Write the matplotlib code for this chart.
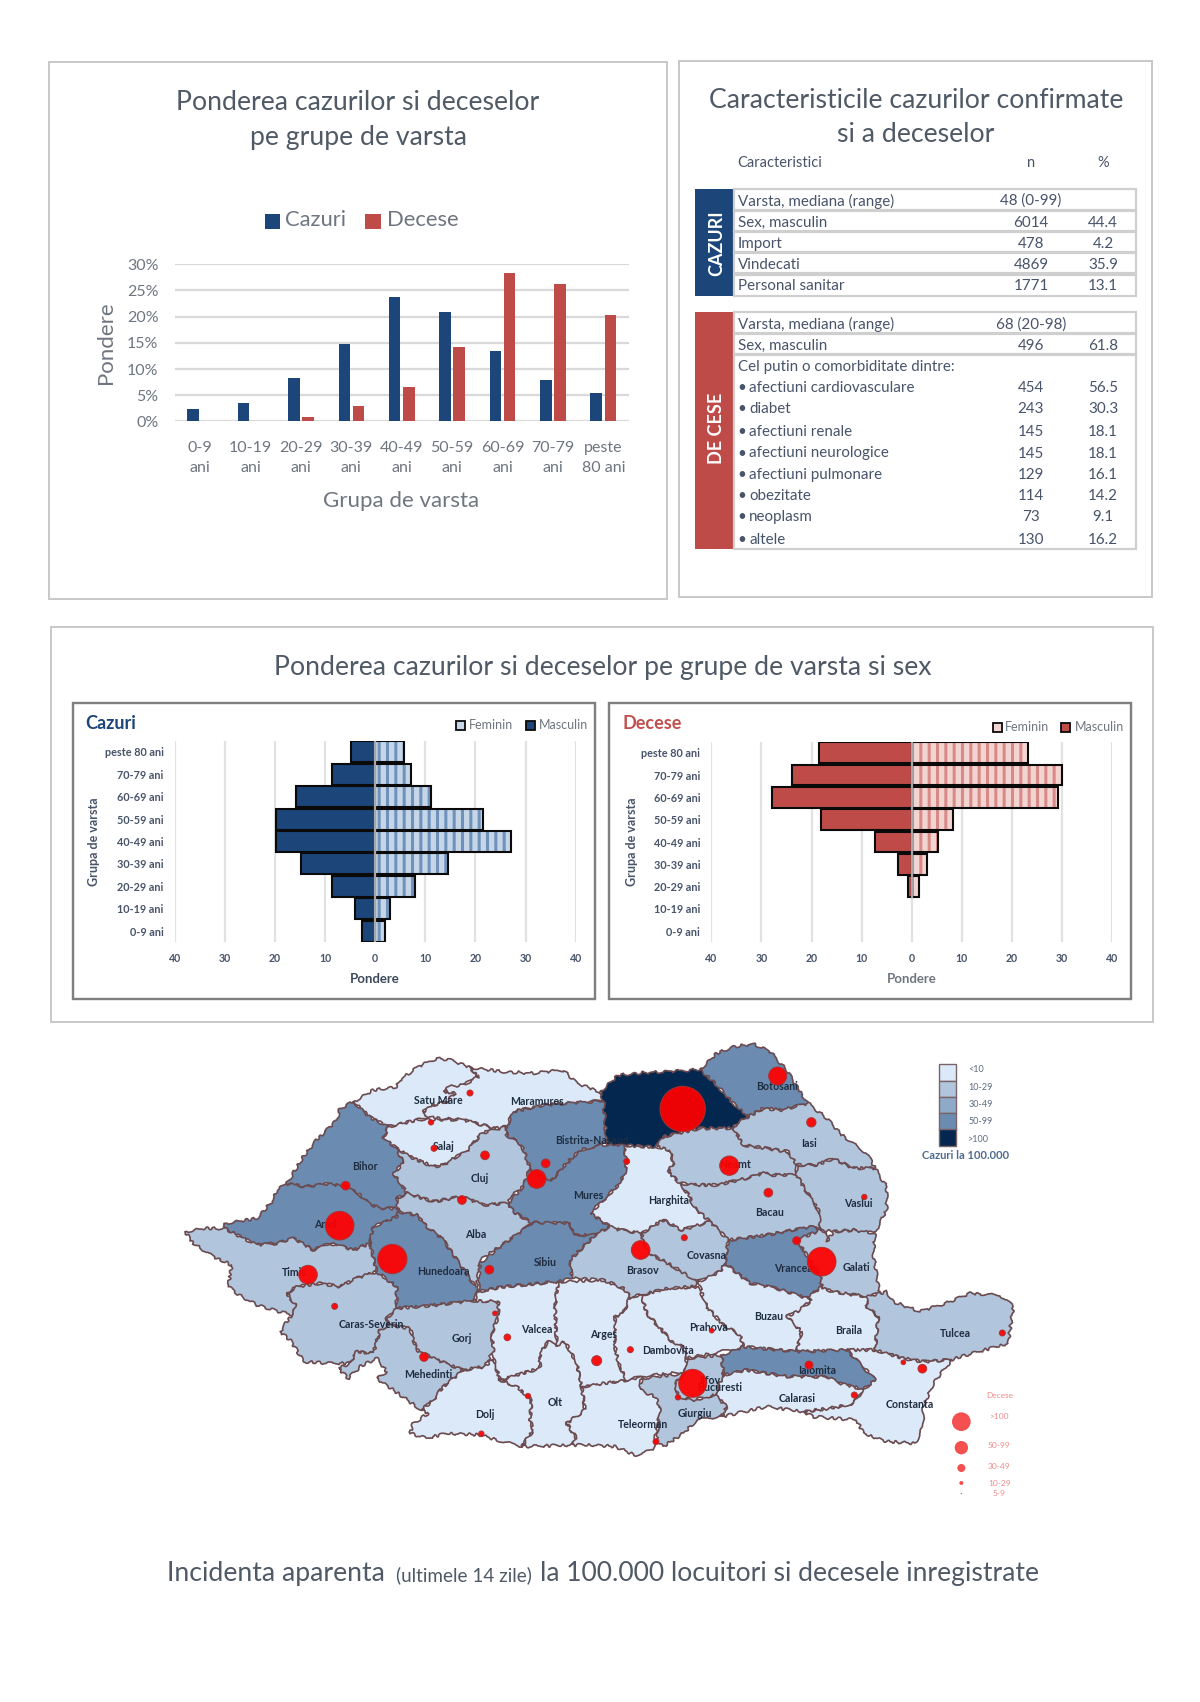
#!/usr/bin/env python
# Romania COVID report page: age/sex bars, characteristics table, county map
import matplotlib
matplotlib.use("Agg")
import matplotlib.pyplot as plt
from matplotlib.patches import Rectangle, Polygon, Circle

plt.rcParams['font.family'] = ['Lato', 'DejaVu Sans']
plt.rcParams['hatch.linewidth'] = 2.2

# --- data ---
age_groups = ["0-9\nani", "10-19\nani", "20-29\nani", "30-39\nani", "40-49\nani",
              "50-59\nani", "60-69\nani", "70-79\nani", "peste\n80 ani"]
cases_pct = [2.3, 3.5, 8.3, 14.8, 23.8, 20.8, 13.4, 7.9, 5.4]
deaths_pct = [0, 0, 0.9, 3.0, 6.6, 14.2, 28.3, 26.2, 20.3]

pyr_ages = ["0-9 ani", "10-19 ani", "20-29 ani", "30-39 ani", "40-49 ani",
            "50-59 ani", "60-69 ani", "70-79 ani", "peste 80 ani"]
cases_m = [2.7, 4.0, 8.7, 14.8, 19.7, 19.7, 15.9, 8.7, 4.9]
cases_f = [1.9, 2.9, 7.9, 14.6, 27.1, 21.6, 11.1, 7.1, 5.7]
deaths_m = [0, 0, 0.8, 2.7, 7.3, 18.1, 27.8, 24.0, 18.5]
deaths_f = [0, 0, 1.5, 3.0, 5.3, 8.2, 29.3, 30.0, 23.3]

table_cases = ["Varsta, mediana (range)", "Sex, masculin", "Import", "Vindecati", "Personal sanitar"]
table_cases_n = ["48 (0-99)", "6014", "478", "4869", "1771"]
table_cases_pct = ["", "44.4", "4.2", "35.9", "13.1"]
table_deaths = ["Varsta, mediana (range)", "Sex, masculin", "Cel putin o comorbiditate dintre:",
                "afectiuni cardiovasculare", "diabet", "afectiuni renale", "afectiuni neurologice",
                "afectiuni pulmonare", "obezitate", "neoplasm", "altele"]
table_deaths_n = ["68 (20-98)", "496", "", "454", "243", "145", "145", "129", "114", "73", "130"]
table_deaths_pct = ["", "61.8", "", "56.5", "30.3", "18.1", "18.1", "16.1", "14.2", "9.1", "16.2"]

# incidence classes for the map
class_labels = ["<10", "10-29", "30-49", "50-99", ">100"]
death_labels = [">100", "50-99", "30-49", "10-29", "5-9"]

west_outlines = {
    "Satu Mare": [(550,215),(610,180),(680,170),(690,150),(745,110),(800,85),(840,90),(900,112),(925,140),(880,165),(830,172),(825,185),(855,190),(830,215),(790,225),(760,245),(775,262),(750,268),(655,290),(600,262)],
    "Maramures": [(900,112),(1000,125),(1090,130),(1180,120),(1220,160),(1290,185),(1300,212),(1200,220),(1120,225),(1030,245),(1010,290),(975,295),(880,270),(775,262),(760,245),(790,225),(830,215),(855,190),(825,185),(830,172),(880,165),(925,140)],
    "Salaj": [(655,290),(750,268),(880,270),(975,295),(935,310),(890,365),(860,380),(820,405),(790,410),(730,385),(680,355),(640,325)],
    "Bihor": [(550,215),(600,262),(655,290),(640,325),(680,355),(700,400),(670,430),(712,490),(680,505),(685,535),(640,535),(600,525),(570,495),(525,468),(470,462),(410,470),(350,462),(400,380),(440,330),(500,270),(510,235)],
    "Cluj": [(680,355),(730,385),(790,410),(820,405),(860,380),(890,365),(935,310),(1010,290),(1010,315),(1055,345),(1080,415),(1060,470),(1020,500),(1015,520),(940,525),(900,510),(875,500),(790,515),(712,490),(670,430),(700,400)],
    "Alba": [(680,505),(712,490),(790,515),(875,500),(940,525),(1015,520),(1030,545),(1085,578),(1060,600),(990,650),(930,690),(920,775),(860,690),(820,630),(770,590),(740,555),(685,545)],
    "Arad": [(165,580),(260,565),(310,510),(320,480),(350,462),(410,470),(470,462),(525,468),(570,495),(600,525),(640,535),(685,535),(680,560),(610,590),(600,640),(550,660),(480,640),(430,660),(370,625),(320,640),(260,645),(210,620),(165,595)],
    "Timis": [(45,605),(100,595),(165,595),(210,620),(260,645),(320,640),(370,625),(430,660),(480,640),(550,660),(600,640),(620,725),(560,745),(510,770),(450,760),(380,770),(350,790),(380,830),(365,855),(310,840),(260,825),(200,790),(175,770),(185,705),(130,680),(70,640)],
    "Caras-Severin": [(350,790),(380,770),(450,760),(510,770),(560,745),(620,725),(680,770),(680,835),(650,865),(655,885),(630,900),(610,970),(560,965),(540,1000),(480,1000),(400,995),(380,960),(360,930),(330,905),(365,855),(380,830)],
    "Hunedoara": [(610,590),(680,560),(685,545),(740,555),(770,590),(820,630),(860,690),(920,775),(915,812),(800,825),(680,835),(680,770),(620,725),(600,640)],
    "Gorj": [(650,865),(680,835),(800,825),(915,812),(985,815),(985,860),(965,910),(970,960),(945,1010),(880,1020),(800,990),(740,960),(720,895),(655,885)],
    "Mehedinti": [(630,900),(655,885),(720,895),(740,960),(800,990),(880,1020),(820,1070),(790,1110),(755,1140),(690,1095),(620,1045),(650,1025),(620,985),(570,1010),(535,1045),(505,1015),(540,1000),(560,965),(610,970)],
    "Dolj": [(880,1020),(945,1010),(970,985),(990,1050),(1040,1070),(1085,1110),(1080,1170),(1090,1200),(1055,1250),(1000,1235),(930,1215),(830,1210),(770,1225),(720,1210),(730,1180),(775,1150),(755,1140),(790,1110),(820,1070)],
    "Valcea": [(925,785),(1000,770),(1165,755),(1155,830),(1160,945),(1135,935),(1110,970),(1110,1015),(1040,1035),(990,1050),(970,985),(970,960),(965,910),(985,860),(985,815),(915,812)],
    "Olt": [(990,1050),(1040,1035),(1110,1015),(1110,970),(1135,935),(1160,945),(1185,935),(1220,1000),(1235,1070),(1245,1140),(1190,1180),(1220,1225),(1205,1245),(1055,1250),(1090,1200),(1080,1170),(1085,1110),(1040,1070)],
    "Arges": [(1165,755),(1300,750),(1360,775),(1380,800),(1360,850),(1335,860),(1335,950),(1345,1000),(1370,1050),(1300,1065),(1235,1070),(1220,1000),(1185,935),(1160,945),(1155,830)],
    "Teleorman": [(1235,1070),(1370,1050),(1415,1040),(1410,1070),(1470,1090),(1470,1140),(1460,1200),(1450,1260),(1395,1275),(1335,1250),(1265,1245),(1205,1245),(1220,1225),(1190,1180),(1245,1140)],
    "Dambovita": [(1380,800),(1415,795),(1430,850),(1480,905),(1505,935),(1540,950),(1550,985),(1545,1025),(1415,1040),(1370,1050),(1345,1000),(1335,950),(1335,860),(1360,850)],
    "Prahova": [(1415,795),(1490,775),(1585,770),(1610,830),(1660,885),(1710,915),(1720,955),(1650,965),(1550,985),(1540,950),(1505,935),(1480,905),(1430,850)],
    "Harghita": [(1360,345),(1425,350),(1460,350),(1500,360),(1510,400),(1495,425),(1530,460),(1560,500),(1570,530),(1620,575),(1570,590),(1535,600),(1480,570),(1415,610),(1340,598),(1320,590),(1260,550),(1300,510),(1340,470),(1365,430),(1370,390)],
    "Mures": [(1145,450),(1180,410),(1230,360),(1290,345),(1360,345),(1370,390),(1365,430),(1340,470),(1300,510),(1260,550),(1320,590),(1275,615),(1210,615),(1200,580),(1085,578),(1030,545),(1015,520),(1060,470),(1080,415),(1120,445)],
    "Bistrita-Nasaud": [(1010,290),(1030,245),(1120,225),(1200,220),(1300,212),(1310,340),(1290,345),(1230,360),(1180,410),(1145,450),(1120,445),(1080,415),(1055,345),(1010,315)],
    "Suceava": [(1290,185),(1345,135),(1420,128),(1500,125),(1590,118),(1640,165),(1690,220),(1735,260),(1700,280),(1690,295),(1590,295),(1480,320),(1460,350),(1425,350),(1360,345),(1310,340),(1300,212)],
    "Brasov": [(1205,745),(1200,690),(1230,660),(1275,615),(1320,590),(1340,598),(1415,610),(1420,640),(1440,670),(1510,710),(1585,755),(1570,770),(1490,775),(1415,795),(1380,800),(1360,775),(1300,750)],
    "Sibiu": [(925,785),(930,700),(990,650),(1060,600),(1085,578),(1200,580),(1210,615),(1275,615),(1230,660),(1200,690),(1205,745),(1165,755),(1000,770)],
}
east_outlines = {
    "Botosani": [(300,118),(350,70),(400,50),(460,42),(510,65),(560,120),(590,170),(625,220),(545,240),(490,235),(445,260),(400,220),(350,165)],
    "Neamt": [(190,320),(300,295),(400,295),(430,345),(500,355),(565,365),(590,405),(590,435),(520,435),(490,430),(440,445),(350,465),(290,465),(240,460),(205,425),(220,400),(210,360),(170,350)],
    "Iasi": [(400,295),(410,280),(445,260),(490,235),(545,240),(625,220),(680,265),(720,310),(800,370),(825,415),(760,415),(700,385),(650,405),(590,405),(565,365),(500,355),(430,345)],
    "Vaslui": [(590,405),(650,405),(700,385),(760,415),(825,415),(860,470),(860,540),(825,610),(760,600),(700,605),(660,600),(655,540),(610,470),(590,435)],
    "Bacau": [(240,460),(290,465),(350,465),(440,445),(490,430),(520,435),(590,435),(610,470),(655,540),(660,590),(580,600),(500,615),(430,625),(385,630),(330,575),(280,530),(270,500)],
    "Covasna": [(125,610),(190,570),(245,600),(280,590),(330,575),(385,630),(375,700),(360,725),(295,755),(220,710),(150,670),(130,640)],
    "Vrancea": [(385,630),(430,625),(500,615),(580,600),(640,590),(660,600),(650,605),(590,630),(630,690),(660,735),(665,770),(620,805),(530,775),(450,760),(400,720),(375,700)],
    "Galati": [(660,600),(680,605),(680,635),(700,605),(760,600),(825,610),(820,670),(835,770),(840,790),(800,800),(730,790),(680,780),(665,770),(660,735),(630,690),(590,630),(650,605)],
    "Buzau": [(295,755),(360,725),(375,700),(400,720),(450,760),(530,775),(620,805),(635,810),(600,840),(560,860),(605,905),(590,965),(430,950),(420,915),(370,885),(320,830)],
    "Braila": [(635,810),(620,805),(665,770),(680,780),(730,790),(800,800),(800,830),(835,860),(825,960),(590,965),(605,905),(560,860),(600,840)],
    "Tulcea": [(800,830),(800,800),(840,790),(860,785),(880,815),(960,845),(1050,815),(1110,790),(1200,795),(1240,830),(1225,940),(1100,975),(1050,990),(970,995),(910,985),(825,960),(835,860)],
    "Constanta": [(825,960),(910,985),(970,995),(1055,990),(1000,1060),(970,1130),(970,1190),(945,1240),(860,1235),(790,1210),(770,1170),(640,1160),(610,1145),(690,1135),(760,1120),(790,1078),(825,1050),(780,1000),(740,960)],
    "Ialomita": [(365,975),(430,950),(590,965),(740,960),(780,1000),(825,1050),(790,1078),(720,1060),(680,1040),(560,1040),(440,1020),(370,1035)],
    "Calarasi": [(370,1035),(440,1020),(560,1040),(680,1040),(720,1060),(790,1078),(760,1120),(690,1135),(610,1145),(500,1130),(410,1150),(365,1160),(380,1130),(345,1095),(365,1040)],
    "Giurgiu": [(125,1045),(255,1030),(225,1060),(235,1100),(280,1110),(345,1095),(380,1130),(365,1160),(290,1170),(250,1210),(190,1250),(170,1235),(180,1130),(165,1100),(120,1080)],
    "Ilfov": [(260,985),(365,975),(370,1035),(345,1095),(280,1110),(235,1100),(225,1060),(255,1030)],
}
east_shift = 1290

# class index per county (0 = <10 ... 4 = >100)
county_class = {
    "Satu Mare": 0, "Maramures": 0, "Salaj": 0, "Bihor": 3, "Cluj": 1, "Alba": 1, "Arad": 3, "Timis": 1,
    "Caras-Severin": 1, "Hunedoara": 3, "Gorj": 1, "Mehedinti": 1, "Dolj": 0, "Valcea": 0, "Olt": 0,
    "Arges": 0, "Teleorman": 0, "Dambovita": 0, "Prahova": 0, "Harghita": 0, "Mures": 3,
    "Bistrita-Nasaud": 3, "Suceava": 4, "Brasov": 1, "Sibiu": 3, "Botosani": 3, "Neamt": 1, "Iasi": 1,
    "Vaslui": 1, "Bacau": 1, "Covasna": 1, "Vrancea": 3, "Galati": 1, "Buzau": 0, "Braila": 0,
    "Tulcea": 1, "Constanta": 0, "Ialomita": 3, "Calarasi": 0, "Giurgiu": 1, "Ilfov": 1,
}

# county names (text, x, y)
label_names = ["Satu Mare", "Maramures", "Salaj", "Bihor", "Cluj", "Bistrita-Nasaud", "Mures", "Arad", "Alba",
               "Hunedoara", "Sibiu", "Brasov", "Timis", "Caras-Severin", "Gorj", "Valcea", "Arges", "Dambovita",
               "Mehedinti", "Dolj", "Olt", "Teleorman", "Harghita", "Covasna", "Botosani", "Iasi", "Neamt",
               "Bacau", "Vaslui", "Vrancea", "Galati", "Buzau", "Braila", "Tulcea", "Prahova", "Ialomita",
               "Calarasi", "Constanta", "Giurgiu", "Ilfov", "Bucuresti", "Suceava"]
label_x = [805, 1100, 820, 585, 928, 1265, 1255, 465, 918, 820, 1125, 1418, 372, 605, 875, 1100, 1300, 1495,
           775, 945, 1157, 1420, 1495, 1610, 1820, 1918, 1695, 1800, 2065, 1870, 2058, 1795, 2037, 2357,
           1615, 1940, 1880, 2220, 1575, 1620, 1648, 1538]
label_y = [210, 215, 348, 408, 447, 332, 497, 585, 615, 725, 698, 722, 727, 885, 925, 898, 915, 960,
           1035, 1153, 1117, 1182, 513, 677, 168, 341, 404, 547, 521, 716, 712, 859, 902, 910,
           893, 1023, 1105, 1125, 1150, 1052, 1073, 248]

# deaths circles
death_x = [1538, 667, 509, 1955, 1568, 1823, 1412, 414, 1100, 1678, 945, 1127, 527, 876, 792, 900, 783, 958, 494,
           762, 1012, 1280, 1381, 975, 1074, 934, 1370, 1924, 1795, 2083, 1543, 1880, 1625, 1917, 2053, 2497, 2257,
           2200, 1524, 1458]
death_y = [237, 687, 587, 695, 1060, 138, 660, 734, 447, 407, 376, 400, 467, 510, 355, 189, 277, 719, 829,
           981, 922, 992, 959, 850, 1098, 1211, 394, 277, 488, 501, 623, 632, 902, 1005, 1095, 909, 1016,
           997, 1102, 1235]
death_r = [68, 44, 43, 43, 42, 27, 28, 28, 28, 29, 13, 13, 13, 13, 9, 9, 8, 13, 9,
           13, 10, 15, 9, 7, 8, 8, 9, 14, 13, 8, 9, 12, 7, 12, 9, 9, 13,
           7, 8, 9]

# --- styles ---
BLUE = '#1c4579'
RED = '#be4b48'
TITLE = '#4f5a66'
GREY = '#6f7680'
TXT = '#47546a'
class_colors = ['#dce9f8', '#b1c5dc', '#8fa9c8', '#6b8bb0', '#04274f']
BORDER = '#6b4b50'

fig = plt.figure(figsize=(12, 17.02), dpi=100, facecolor='white')
W, H = 1200.0, 1702.0


def px_axes(left, top, right, bottom, **kw):
    # axes placed by reference pixel box
    return fig.add_axes([left / W, 1 - bottom / H, (right - left) / W, (bottom - top) / H], **kw)


def pt(px):
    return px * 0.72


# page overlay in pixel coordinates
ov = fig.add_axes([0, 0, 1, 1], zorder=0)
ov.set_xlim(0, W)
ov.set_ylim(H, 0)
ov.axis('off')


def frame(l, t, r, b, color='#c9c9c9', lw=2.0):
    ov.add_patch(Rectangle((l, t), r - l, b - t, fill=False, edgecolor=color, linewidth=pt(lw)))


frame(49, 62, 667, 599)
frame(679, 60.7, 1152, 597)
frame(51, 627, 1153, 1022)
frame(72.5, 702.7, 595, 998.7, color='#7f7f7f', lw=2.4)
frame(609, 702.7, 1130.5, 998.7, color='#7f7f7f', lw=2.4)

# --- panel 1: age bars ---
ov.text(358, 102.5, "Ponderea cazurilor si deceselor", ha='center', va='center', fontsize=19.2, color=TITLE)
ov.text(358, 137.5, "pe grupe de varsta", ha='center', va='center', fontsize=19.2, color=TITLE)
ov.add_patch(Rectangle((265, 213.6), 15, 15, color=BLUE, lw=0))
ov.text(285, 220.5, "Cazuri", va='center', fontsize=15.8, color=GREY)
ov.add_patch(Rectangle((365, 213.6), 16, 15, color=RED, lw=0))
ov.text(387, 220.5, "Decese", va='center', fontsize=15.8, color=GREY)

ax1 = px_axes(175, 264.3, 628.5, 421.4, facecolor='none', zorder=2)
xs = list(range(len(age_groups)))
ax1.bar([x - 0.14 for x in xs], cases_pct, width=0.23, color=BLUE, zorder=3)
ax1.bar([x + 0.14 for x in xs], deaths_pct, width=0.23, color=RED, zorder=3)
ax1.set_xlim(-0.5, 8.5)
ax1.set_ylim(0, 30)
ax1.set_yticks([0, 5, 10, 15, 20, 25, 30])
ax1.set_yticklabels(["0%", "5%", "10%", "15%", "20%", "25%", "30%"], fontsize=11.5, color=GREY)
ax1.set_xticks(xs)
ax1.set_xticklabels(age_groups, fontsize=11.5, color=GREY, linespacing=1.6)
ax1.tick_params(length=0, axis='y', pad=12)
ax1.tick_params(length=0, axis='x', pad=14)
ax1.grid(axis='y', color='#d9d9d9', linewidth=1.6, zorder=0)
for s in ax1.spines.values():
    s.set_visible(False)
ov.text(401, 501, "Grupa de varsta", ha='center', va='center', fontsize=16, color=GREY)
ov.text(106, 342.9, "Pondere", rotation=90, ha='center', va='center', fontsize=16, color=GREY)

# --- panel 2: table ---
ov.text(916, 100, "Caracteristicile cazurilor confirmate", ha='center', va='center', fontsize=19.2, color=TITLE)
ov.text(916, 135, "si a deceselor", ha='center', va='center', fontsize=19.2, color=TITLE)
ov.text(737.5, 163, "Caracteristici", va='center', fontsize=10.5, color=TXT)
ov.text(1031, 163, "n", ha='center', va='center', fontsize=10.5, color=TXT)
ov.text(1103, 163, "%", ha='center', va='center', fontsize=10.5, color=TXT)

ov.add_patch(Rectangle((695, 188.6), 38.5, 107.4, color=BLUE, lw=0))
ov.text(716.5, 243, "CAZURI", rotation=90, ha='center', va='center', fontsize=13, fontweight='bold', color='white')
ov.add_patch(Rectangle((695, 312), 38.5, 237, color=RED, lw=0))
ov.text(716.5, 428.6, "DE CESE", rotation=90, ha='center', va='center', fontsize=13, fontweight='bold', color='white')

for t, b in [(188.6, 210), (211, 231), (232, 252), (253, 273), (274.5, 296), (312, 333), (334, 354), (355, 549)]:
    frame(733.5, t, 1136, b, color='#cfcfcf', lw=2.2)

case_rows = [201, 223, 244, 265, 286]
death_rows = [324.6, 345.6, 367, 388, 409, 432, 453.5, 474.6, 495.6, 517, 540]
for y, a, n, p in zip(case_rows, table_cases, table_cases_n, table_cases_pct):
    ov.text(737.5, y, a, va='center', fontsize=10.9, color=TXT)
    ov.text(1031, y, n, ha='center', va='center', fontsize=10.9, color=TXT)
    ov.text(1103, y, p, ha='center', va='center', fontsize=10.9, color=TXT)
for i, (y, a, n, p) in enumerate(zip(death_rows, table_deaths, table_deaths_n, table_deaths_pct)):
    if i >= 3:
        ov.text(742, y, "\u2022", ha='center', va='center', fontsize=10.9, color=TXT)
        ov.text(749, y, a, va='center', fontsize=10.9, color=TXT)
    else:
        ov.text(737.5, y, a, va='center', fontsize=10.9, color=TXT)
    ov.text(1031, y, n, ha='center', va='center', fontsize=10.9, color=TXT)
    ov.text(1103, y, p, ha='center', va='center', fontsize=10.9, color=TXT)

# --- panel 3: pyramids ---
ov.text(603, 668, "Ponderea cazurilor si deceselor pe grupe de varsta si sex", ha='center', va='center',
        fontsize=19.2, color=TITLE)


def pyramid(box, male, female, dark, light, stripe):
    ax = px_axes(*box, facecolor='none', zorder=2)
    # only groups with a value get a bar, an empty bar would still draw its outline
    y = [i for i, v in enumerate(female) if v > 0]
    m = [-male[i] for i in y]
    f = [female[i] for i in y]
    ax.barh(y, m, height=0.93, color=dark, edgecolor='#0a0a0a', linewidth=1.5, zorder=3)
    ax.barh(y, f, height=0.93, color=light, hatch='||', edgecolor=stripe, linewidth=0, zorder=3)
    ax.barh(y, f, height=0.93, fill=False, edgecolor='#0a0a0a', linewidth=1.5, zorder=4)
    # centre line is only dark where there are bars
    ax.vlines(0, y[0] - 0.5, y[-1] + 0.5, color='#a6a6a6', linewidth=1.6, zorder=5)
    ax.set_xlim(-40, 40)
    ax.set_ylim(-0.5, 8.5)
    ax.set_xticks([-40, -30, -20, -10, 0, 10, 20, 30, 40])
    ax.set_xticklabels(["40", "30", "20", "10", "0", "10", "20", "30", "40"], fontsize=7.6,
                       fontweight='bold', color=TXT)
    ax.set_yticks(range(len(pyr_ages)))
    ax.set_yticklabels(pyr_ages, fontsize=7.8, fontweight='bold', color=TXT)
    ax.tick_params(length=0, axis='x', pad=7.5)
    ax.tick_params(length=0, axis='y', pad=8)
    ax.grid(axis='x', color='#e2e2e2', linewidth=1.6, zorder=0)
    for s in ax.spines.values():
        s.set_visible(False)
    return ax


pyramid((174.7, 740.7, 575.7, 942.3), cases_m, cases_f, BLUE, '#c6d6e8', '#6f92bb')
pyramid((711.4, 741.7, 1112, 942.3), deaths_m, deaths_f, RED, '#f2d5d3', '#d98a87')

ov.text(85, 723.5, "Cazuri", va='center', fontsize=13, fontweight='bold', color=BLUE)
ov.text(622, 723.5, "Decese", va='center', fontsize=13, fontweight='bold', color='#c0504d')
ov.text(375, 979, "Pondere", ha='center', va='center', fontsize=9.5, fontweight='bold', color='#3d4a5c')
ov.text(912, 979, "Pondere", ha='center', va='center', fontsize=9.5, color=GREY, fontweight='bold')
ov.text(93.6, 841.7, "Grupa de varsta", rotation=90, ha='center', va='center', fontsize=9, fontweight='bold', color=TXT)
ov.text(632, 841.7, "Grupa de varsta", rotation=90, ha='center', va='center', fontsize=9, fontweight='bold', color=TXT)

for sq, tx, name, fc in [(456, 468.5, "Feminin", '#c6d6e8'), (526, 538.5, "Masculin", BLUE),
                         (993, 1005, "Feminin", '#f2d5d3'), (1061, 1074.5, "Masculin", RED)]:
    yy = 725 if sq < 600 else 727
    ov.add_patch(Rectangle((sq, yy - 4), 8.5, 8.5, facecolor=fc, edgecolor='#0a0a0a', linewidth=1.3))
    ov.text(tx, yy, name, va='center', fontsize=9, color=GREY)

# --- map ---
ax_map = px_axes(170, 1030, 1070, 1530, facecolor='none', zorder=2)
ax_map.set_xlim(0, 2700)
ax_map.set_ylim(1500, 0)
ax_map.axis('off')


def county_patch(name, pts):
    p = Polygon(pts, closed=True, facecolor=class_colors[county_class[name]], edgecolor=BORDER,
                linewidth=1.2, joinstyle='round', zorder=2)
    p.set_sketch_params(scale=1.4, length=18, randomness=6)
    ax_map.add_patch(p)


for name, pts in west_outlines.items():
    county_patch(name, pts)
for name, pts in east_outlines.items():
    county_patch(name, [(x + east_shift, y) for x, y in pts])

for name, x, y in zip(label_names, label_x, label_y):
    ax_map.text(x, y, name, ha='center', va='center', fontsize=7.6, fontweight='bold', color='#1e2c40', zorder=4)

for x, y, r in zip(death_x, death_y, death_r):
    ax_map.add_patch(Circle((x, y), r, facecolor='#ff0000', edgecolor='#a83232', linewidth=0.7, alpha=0.93, zorder=5))

# map legends
band_top = [103, 152, 201, 250, 298]
band_mid = [119, 171, 223, 275, 327]
for i, lab in enumerate(class_labels):
    ax_map.add_patch(Rectangle((1017 + east_shift, band_top[i]), 50, 49, facecolor=class_colors[i], edgecolor='#7a6468',
                               linewidth=1.0, zorder=3))
    ax_map.text(1105 + east_shift, band_mid[i], lab, va='center', fontsize=6.5, color='#5c6c80', zorder=3)
ax_map.text(1098 + east_shift, 376, "Cazuri la 100.000", ha='center', va='center', fontsize=8, fontweight='bold',
            color='#4d6a90', zorder=3)

ax_map.text(1198 + east_shift, 1098, "Decese", ha='center', va='center', fontsize=6, color='#f08a8a', zorder=3)
leg_y = [1175, 1253, 1314, 1359, 1391]
leg_r = [28, 20, 12, 6, 2]
leg_t = [1160, 1245, 1310, 1359, 1392]
for ly, lr, lt, lab in zip(leg_y, leg_r, leg_t, death_labels):
    ax_map.add_patch(Circle((1084 + east_shift, ly), lr, facecolor='#f55050', edgecolor='none', zorder=3))
    ax_map.text(1198 + east_shift, lt, lab, ha='center', va='center', fontsize=6, color='#f08a8a', zorder=3)

# caption
ov.text(167, 1581, "Incidenta aparenta", va='baseline', fontsize=19.2, color=TITLE)
ov.text(396, 1581, "(ultimele 14 zile)", va='baseline', fontsize=13.6, color=TITLE)
ov.text(540, 1581, "la 100.000 locuitori si decesele inregistrate", va='baseline', fontsize=19.1, color=TITLE)

fig.savefig('out.png', dpi=100, facecolor='white')
